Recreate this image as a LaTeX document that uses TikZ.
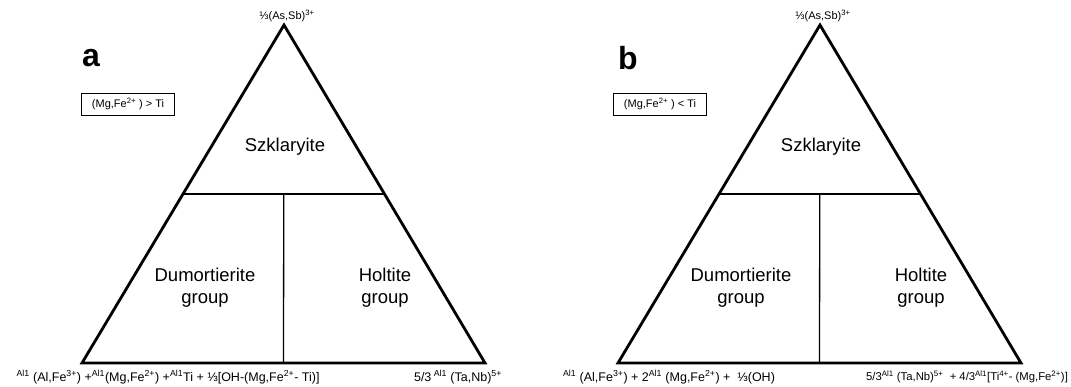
\documentclass[tikz,border=0pt]{standalone}
\usepackage{fontspec}
\setmainfont{Liberation Sans}
\usetikzlibrary{calc,positioning}
\tikzset{
  tri/.style={draw=black,line width=2.8pt,line join=miter},
  divline/.style={draw=black,line width=1.3pt},
  fieldlbl/.style={font=\fontsize{18.5}{22}\selectfont,align=center,inner sep=0pt},
  endlbl/.style={font=\fontsize{11}{13}\selectfont,inner sep=0pt},
  baselbl/.style={font=\fontsize{12.5}{14}\selectfont,inner sep=0pt},
  condbox/.style={draw=black,line width=0.9pt,font=\fontsize{11}{13}\selectfont,
    minimum width=93pt,minimum height=22pt,inner sep=2pt},
  panellbl/.style={font=\fontsize{32}{36}\selectfont\bfseries,inner sep=0pt},
}

\begin{document}
\begin{tikzpicture}[x=1pt,y=-1pt]
  \useasboundingbox (0,0) rectangle (1071,387);
  % panel a
  \coordinate (tA) at (284,25);
  \coordinate (lA) at (82,363);
  \coordinate (rA) at (485,363);
  \coordinate (mlA) at ($(lA)!0.5!(tA)$);
  \coordinate (mrA) at ($(rA)!0.5!(tA)$);
  \coordinate (mcA) at ($(mlA)!0.5!(mrA)$);
  \coordinate (bcA) at ($(lA)!0.5!(rA)$);
  \draw[tri] (lA)--(tA)--(rA)--cycle;
  \draw[divline] (mlA)--(mrA);
  \draw[divline] (mcA)--(bcA);

  \node[panellbl] (labA) at (91,58) {a};
  \node[condbox] (boxA) at (128,104) {(Mg,Fe\textsuperscript{2+} ) > Ti};
  \node[fieldlbl] (szA) at (285,147) {Szklaryite};
  \node[fieldlbl] (duA) at (205,288) {Dumortierite\\group};
  \node[fieldlbl] (hoA) at (385,288) {Holtite\\group};
  \node[endlbl,above=3pt of tA,xshift=3pt] (topA) {⅓(As,Sb)\textsuperscript{3+}};
  \node[baselbl] (leftA) at (168,377) {\textsuperscript{Al1} (Al,Fe\textsuperscript{3+}) +\textsuperscript{Al1}(Mg,Fe\textsuperscript{2+}) +\textsuperscript{Al1}Ti + ⅓[OH-(Mg,Fe\textsuperscript{2+}- Ti)]};
  \node[baselbl] (rightA) at (458,377) {5/3\textsuperscript{ Al1} (Ta,Nb)\textsuperscript{5+}};

  % panel b
  \coordinate (tB) at (820,25);
  \coordinate (lB) at (618,363);
  \coordinate (rB) at (1021,363);
  \coordinate (mlB) at ($(lB)!0.5!(tB)$);
  \coordinate (mrB) at ($(rB)!0.5!(tB)$);
  \coordinate (mcB) at ($(mlB)!0.5!(mrB)$);
  \coordinate (bcB) at ($(lB)!0.5!(rB)$);
  \draw[tri] (lB)--(tB)--(rB)--cycle;
  \draw[divline] (mlB)--(mrB);
  \draw[divline] (mcB)--(bcB);

  \node[panellbl] (labB) at (628,58) {b};
  \node[condbox] (boxB) at (660,104) {(Mg,Fe\textsuperscript{2+} ) < Ti};
  \node[fieldlbl] (szB) at (821,147) {Szklaryite};
  \node[fieldlbl] (duB) at (741,288) {Dumortierite\\group};
  \node[fieldlbl] (hoB) at (921,288) {Holtite\\group};
  \node[endlbl,above=3pt of tB,xshift=3pt] (topB) {⅓(As,Sb)\textsuperscript{3+}};
  \node[baselbl] (leftB) at (669,377) {\textsuperscript{Al1} (Al,Fe\textsuperscript{3+}) + 2\textsuperscript{Al1} (Mg,Fe\textsuperscript{2+}) + \ ⅓(OH)};
  \node[endlbl,font=\fontsize{11.3}{13}\selectfont] (rightB) at (967,377) {5/3\textsuperscript{Al1} (Ta,Nb)\textsuperscript{5+} \ + 4/3\textsuperscript{Al1}[Ti\textsuperscript{4+}- (Mg,Fe\textsuperscript{2+})]};
\end{tikzpicture}
\end{document}
